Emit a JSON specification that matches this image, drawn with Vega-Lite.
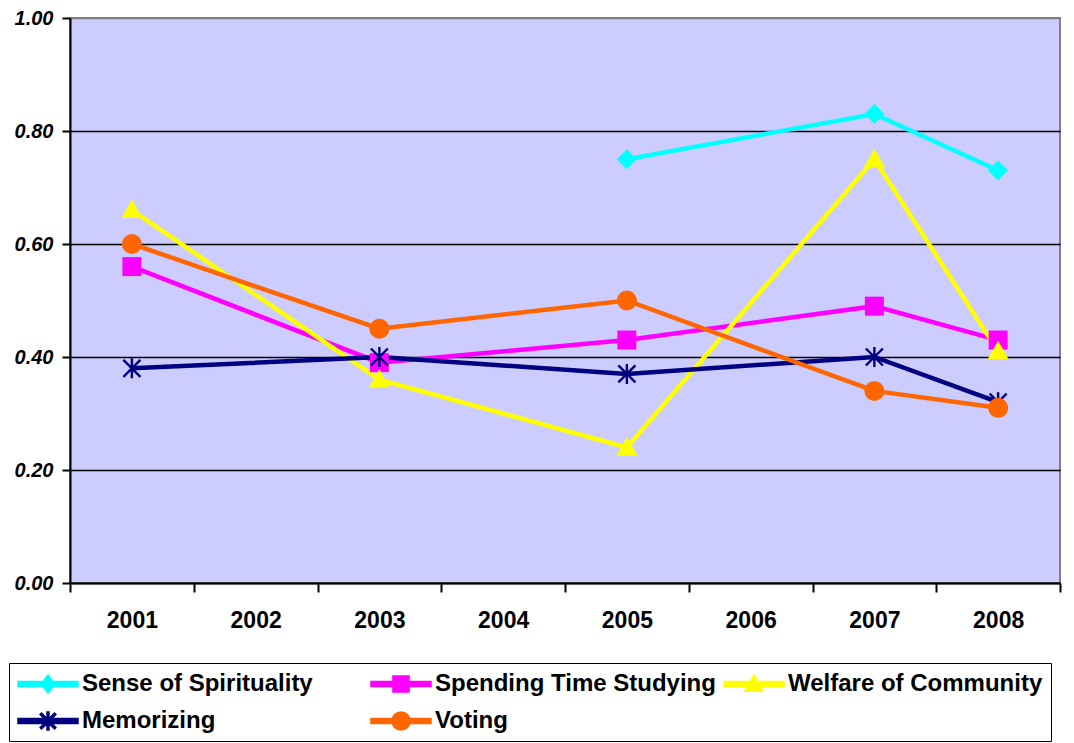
{
  "$schema": "https://vega.github.io/schema/vega-lite/v6.json",
  "width": 990,
  "height": 565,
  "autosize": {"type": "none"},
  "padding": {"left": 70, "top": 18, "right": 14, "bottom": 160},
  "background": "white",
  "config": {
    "font": "Liberation Sans",
    "view": {"fill": "#CCCCFF", "stroke": "#808080", "strokeWidth": 2},
    "axis": {"labelFont": "Liberation Sans", "labelColor": "black", "domainColor": "black", "domainWidth": 2, "tickColor": "black", "tickWidth": 2}
  },
  "data": {
    "values": [
      {"year": "2005", "series": "Sense of Spirituality", "value": 0.75},
      {"year": "2007", "series": "Sense of Spirituality", "value": 0.83},
      {"year": "2008", "series": "Sense of Spirituality", "value": 0.73},
      {"year": "2001", "series": "Spending Time Studying", "value": 0.56},
      {"year": "2003", "series": "Spending Time Studying", "value": 0.39},
      {"year": "2005", "series": "Spending Time Studying", "value": 0.43},
      {"year": "2007", "series": "Spending Time Studying", "value": 0.49},
      {"year": "2008", "series": "Spending Time Studying", "value": 0.43},
      {"year": "2001", "series": "Welfare of Community", "value": 0.66},
      {"year": "2003", "series": "Welfare of Community", "value": 0.36},
      {"year": "2005", "series": "Welfare of Community", "value": 0.24},
      {"year": "2007", "series": "Welfare of Community", "value": 0.75},
      {"year": "2008", "series": "Welfare of Community", "value": 0.41},
      {"year": "2001", "series": "Memorizing", "value": 0.38},
      {"year": "2003", "series": "Memorizing", "value": 0.40},
      {"year": "2005", "series": "Memorizing", "value": 0.37},
      {"year": "2007", "series": "Memorizing", "value": 0.40},
      {"year": "2008", "series": "Memorizing", "value": 0.32},
      {"year": "2001", "series": "Voting", "value": 0.60},
      {"year": "2003", "series": "Voting", "value": 0.45},
      {"year": "2005", "series": "Voting", "value": 0.50},
      {"year": "2007", "series": "Voting", "value": 0.34},
      {"year": "2008", "series": "Voting", "value": 0.31}
    ]
  },
  "encoding": {
    "x": {
      "field": "year",
      "type": "ordinal",
      "scale": {"type": "band", "paddingInner": 0, "paddingOuter": 0, "domain": ["2001", "2002", "2003", "2004", "2005", "2006", "2007", "2008"]},
      "axis": {"title": null, "labelAngle": 0, "tickBand": "extent", "tickSize": 9, "labelPadding": 17, "labelFontSize": 23, "labelFontWeight": "bold", "grid": false}
    },
    "y": {
      "field": "value",
      "type": "quantitative",
      "scale": {"domain": [0, 1], "nice": false},
      "axis": {
        "title": null,
        "values": [0, 0.2, 0.4, 0.6, 0.8, 1.0],
        "format": ".2f",
        "tickSize": 8,
        "labelPadding": 9,
        "labelFontSize": 20,
        "labelFontWeight": "bold",
        "labelFontStyle": "italic",
        "grid": true,
        "gridColor": {"condition": {"test": "datum.value >= 1", "value": "#808080"}, "value": "black"},
        "gridWidth": 1.5,
        "gridOpacity": 1
      }
    },
    "color": {
      "field": "series",
      "type": "nominal",
      "scale": {"domain": ["Sense of Spirituality", "Spending Time Studying", "Welfare of Community", "Memorizing", "Voting"], "range": ["#00FFFF", "#FF00FF", "#FFFF00", "#000080", "#FF6600"]},
      "legend": {
        "title": null,
        "orient": "none",
        "legendX": -61,
        "legendY": 645,
        "direction": "horizontal",
        "columns": 3,
        "gridAlign": "all",
        "columnPadding": 5,
        "rowPadding": 12,
        "padding": 8,
        "strokeColor": "black",
        "symbolSize": 576,
        "labelOffset": 39,
        "labelFont": "Liberation Sans",
        "labelFontSize": 24,
        "labelFontWeight": "bold",
        "labelColor": "black",
        "labelLimit": 400,
        "symbolOpacity": 1,
        "symbolType": {"expr": "datum.value === 'Sense of Spirituality' ? 'M-1,-0.2H4V0.2H-1ZM1.5,-0.75L2.08,0L1.5,0.75L0.92,0Z' : datum.value === 'Spending Time Studying' ? 'M-1,-0.2H4V0.2H-1ZM0.83,-0.67H2.17V0.67H0.83Z' : datum.value === 'Welfare of Community' ? 'M-1,-0.2H4V0.2H-1ZM1.5,-0.75L2.25,0.6L0.75,0.6Z' : datum.value === 'Memorizing' ? 'M-1,-0.2H4V0.2H-1ZM1.42,-0.75H1.58V0.75H1.42ZM0.957,-0.657L2.157,0.543L2.043,0.657L0.843,-0.543ZM0.843,0.543L2.043,-0.657L2.157,-0.543L0.957,0.657Z' : 'M-1,-0.2H4V0.2H-1ZM0.75,0A0.75,0.75,0,1,1,2.25,0A0.75,0.75,0,1,1,0.75,0Z'"}
      }
    }
  },
  "layer": [
    {
      "mark": {"type": "line", "strokeWidth": 4.5},
      "encoding": {"detail": {"field": "series"}}
    },
    {
      "transform": [{"filter": "datum.series === 'Sense of Spirituality'"}],
      "mark": {"type": "point", "filled": true, "opacity": 1, "size": 400, "shape": "M0,-1L1,0L0,1L-1,0Z"}
    },
    {
      "transform": [{"filter": "datum.series === 'Spending Time Studying'"}],
      "mark": {"type": "point", "filled": true, "opacity": 1, "size": 400, "shape": "M-0.95,-0.95H0.95V0.95H-0.95Z"}
    },
    {
      "transform": [{"filter": "datum.series === 'Welfare of Community'"}],
      "mark": {"type": "point", "filled": true, "opacity": 1, "size": 400, "shape": "M0,-1.05L1.05,0.8L-1.05,0.8Z"}
    },
    {
      "transform": [{"filter": "datum.series === 'Memorizing'"}],
      "mark": {"type": "point", "filled": true, "opacity": 1, "size": 400, "shape": "M-0.12,-1H0.12V1H-0.12ZM-0.765,-0.935L0.935,0.765L0.765,0.935L-0.935,-0.765ZM-0.935,0.765L0.765,-0.935L0.935,-0.765L-0.765,0.935Z"}
    },
    {
      "transform": [{"filter": "datum.series === 'Voting'"}],
      "mark": {"type": "point", "filled": true, "opacity": 1, "size": 400, "shape": "circle"}
    }
  ]
}
